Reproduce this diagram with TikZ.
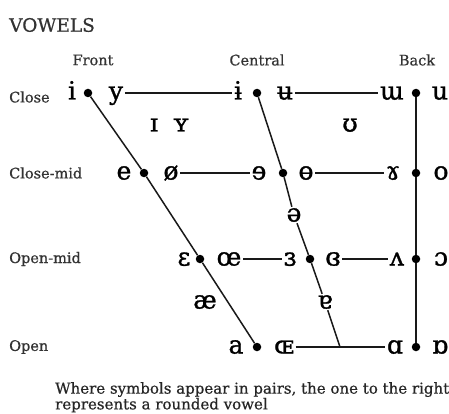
\documentclass[tikz,border=0pt]{standalone}
\usepackage{fontspec}
\setmainfont{DejaVu Serif}
\newfontfamily\ipaheavy[FakeBold=1.2]{DejaVu Serif}
\newfontfamily\labheavy[FakeBold=0.6]{DejaVu Serif}
\begin{document}
\begin{tikzpicture}[x=1pt,y=-1pt,
  dot/.style={circle,fill=black,inner sep=0pt,minimum size=8.5pt},
  sym/.style={inner sep=1.5pt,text height=14pt,text depth=1pt,font=\ipaheavy\fontsize{25}{25}\selectfont},
  lab/.style={inner sep=0pt,font=\labheavy\fontsize{14.5}{14.5}\selectfont,text=black!80},
  ln/.style={line width=1.5pt,black!90}]
\useasboundingbox[fill=white] (0,0) rectangle (449,414);

% title and headers
\node[inner sep=0pt,anchor=west,font=\labheavy\fontsize{18.5}{18.5}\selectfont,text=black!80] (title) at (9,25) {VOWELS};
\node[lab] (front) at (93,60) {Front};
\node[lab] (central) at (257,60) {Central};
\node[lab] (back) at (417,60) {Back};
\node[lab,anchor=west] (lclose) at (9,97) {Close};
\node[lab,anchor=west] (lclosemid) at (9,173) {Close-mid};
\node[lab,anchor=west] (lopenmid) at (9,259) {Open-mid};
\node[lab,anchor=west] (lopen) at (9,347) {Open};

% dots
\node[dot] (f1) at (88,93) {};
\node[dot] (f2) at (144,173) {};
\node[dot] (f3) at (200,259) {};
\node[dot] (f4) at (257,347) {};
\node[dot] (c1) at (257,93) {};
\node[dot] (c2) at (283,173) {};
\node[dot] (c3) at (310,259) {};
\node[dot] (b1) at (416,93) {};
\node[dot] (b2) at (416,173) {};
\node[dot] (b3) at (416,259) {};
\node[dot] (b4) at (416,347) {};
\coordinate (j) at (340,347);

% symbols: close
\node[sym] (si) at (72,93) {i};
\node[sym] (sy) at (116,93) {y};
\node[sym] (sibar) at (238,93) {ɨ};
\node[sym] (subar) at (285,93) {ʉ};
\node[sym] (sturnm) at (392,93) {ɯ};
\node[sym] (su) at (440,93) {u};
% near-close
\node[sym] (ssmalli) at (154,125) {ɪ};
\node[sym] (ssmally) at (181,125) {ʏ};
\node[sym] (supsilon) at (350,125) {ʊ};
% close-mid
\node[sym] (se) at (124,173) {e};
\node[sym] (soslash) at (171,173) {ø};
\node[sym] (srevE) at (259,173) {ɘ};
\node[sym] (sbarO) at (306,173) {ɵ};
\node[sym] (sramshorn) at (393,173) {ɤ};
\node[sym] (so) at (441,173) {o};
% mid
\node[sym,inner sep=0.5pt] (sschwa) at (294,215) {ə};
% open-mid
\node[sym] (seps) at (184,259) {ɛ};
\node[sym] (soe) at (229,259) {œ};
\node[sym] (srevEps) at (290,259) {ɜ};
\node[sym] (sclosedrevEps) at (333,259) {ɞ};
\node[sym] (sturnv) at (397,259) {ʌ};
\node[sym] (sopeno) at (441,259) {ɔ};
% near-open
\node[sym] (sae) at (205,302) {æ};
\node[sym,inner sep=0.5pt] (sturna) at (325,302) {ɐ};
% open
\node[sym] (sa) at (236,347) {a};
\node[sym] (ssmalloe) at (284,347) {ɶ};
\node[sym] (sscripta) at (395,347) {ɑ};
\node[sym] (sturnscripta) at (440,347) {ɒ};

% front diagonal
\draw[ln] (f1) -- (f2) -- (f3) -- (f4);
% central diagonal
\draw[ln] (c1) -- (c2);
\draw[ln] (c2) -- (sschwa);
\draw[ln] (sschwa) -- (c3);
\draw[ln] (c3) -- (sturna);
\draw[ln] (sturna) -- (j);
% back vertical
\draw[ln] (b1) -- (b2) -- (b3) -- (b4);
% horizontals
\draw[ln] (sy.east) -- (sibar.west);
\draw[ln] (subar.east) -- (sturnm.west);
\draw[ln] (soslash.east) -- (srevE.west);
\draw[ln] (sbarO.east) -- (sramshorn.west);
\draw[ln] (soe.east) -- (srevEps.west);
\draw[ln] (sclosedrevEps.east) -- (sturnv.west);
\draw[ln] (ssmalloe.east) -- (sscripta.west);

% footer
\node[inner sep=0pt,anchor=north west,align=left,font=\labheavy\fontsize{15}{12.5}\selectfont,text=black!85] (foot) at (55,382)
  {Where symbols appear in pairs, the one to the right\\represents a rounded vowel};
\end{tikzpicture}
\end{document}
